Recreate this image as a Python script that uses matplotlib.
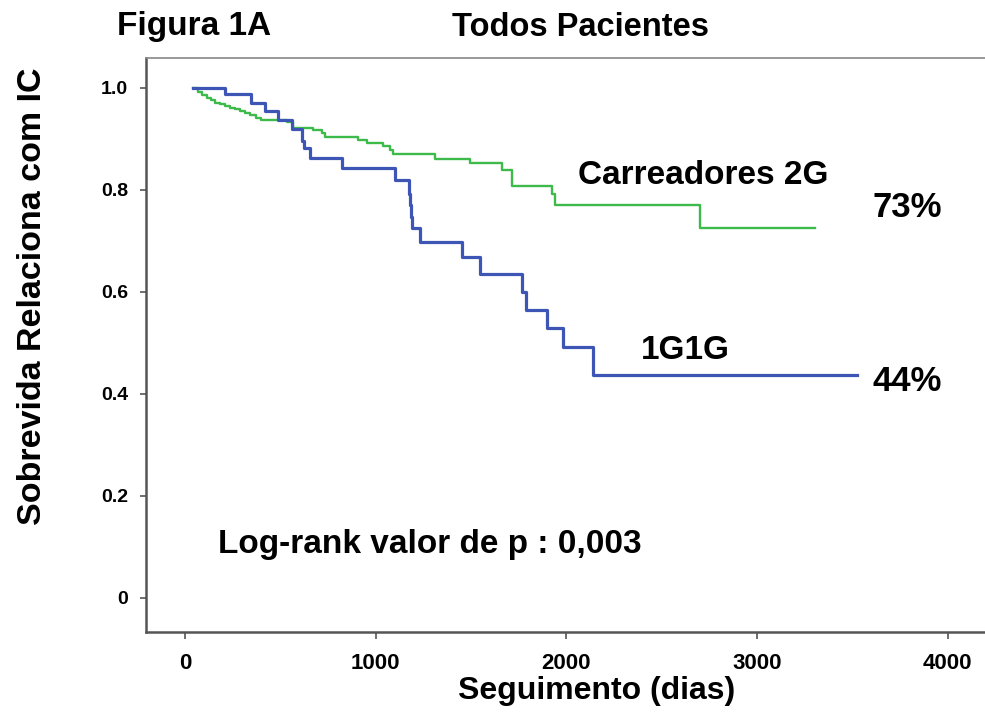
#!/usr/bin/python

"""Plot Kaplan-Meier survival curves for 1G1G and 2G carriers."""

import matplotlib.pyplot as plt

# follow-up days and survival after each event, 2G carriers (green)
carriers_days = [44, 68, 89, 115, 136, 157, 184, 210, 236, 262, 288, 315,
                 341, 372, 398, 535, 566, 671, 718, 734, 907, 954, 1038,
                 1075, 1091, 1311, 1494, 1662, 1713, 1716, 1924, 1940, 2700,
                 3303]
carriers_surv = [1.0, 0.993, 0.986, 0.981, 0.976, 0.971, 0.968, 0.965, 0.961,
                 0.958, 0.954, 0.951, 0.947, 0.942, 0.937, 0.933, 0.921,
                 0.917, 0.911, 0.903, 0.898, 0.893, 0.886, 0.878, 0.870,
                 0.860, 0.852, 0.840, 0.822, 0.807, 0.792, 0.771, 0.725,
                 0.725]

# follow-up days and survival after each event, 1G1G (blue)
homo_days = [43, 210, 344, 419, 489, 559, 615, 624, 655, 822, 1100, 1174,
             1178, 1184, 1189, 1232, 1451, 1547, 1765, 1788, 1897, 1984,
             2141, 3522]
homo_surv = [1.0, 0.988, 0.971, 0.955, 0.937, 0.920, 0.896, 0.882, 0.862,
             0.843, 0.819, 0.793, 0.770, 0.748, 0.725, 0.698, 0.669, 0.636,
             0.600, 0.565, 0.529, 0.492, 0.438, 0.438]

xticks = [0, 1000, 2000, 3000, 4000]
yticks = [0, 0.2, 0.4, 0.6, 0.8, 1.0]
yticklabels = ['0', '0.2', '0.4', '0.6', '0.8', '1.0']


def main():
    """Main program called during execution."""

    plt.rcParams['font.family'] = ['Liberation Sans', 'DejaVu Sans']
    plt.rcParams['font.weight'] = 'bold'

    # initialize figure
    fig = plt.figure(figsize=(9.85, 7.19), dpi=100)
    ax = fig.add_axes([146/985, 1-632/719, 1-146/985, (632-58)/719])

    # plot survival curves
    ax.plot(carriers_days, carriers_surv, drawstyle='steps-post',
            color='#3dbb4a', lw=1.7)
    ax.plot(homo_days, homo_surv, drawstyle='steps-post',
            color='#3d55b5', lw=2.3)

    # set axes properties
    ax.set_xlim(-205, 4195)
    ax.set_ylim(-0.0667, 1.0588)
    ax.set_xticks(xticks)
    ax.set_xticklabels([str(t) for t in xticks], fontsize=16, weight='bold')
    ax.set_yticks(yticks)
    ax.set_yticklabels(yticklabels, fontsize=14, weight='bold')
    ax.tick_params(axis='x', length=5, width=1.2, color='#555555', pad=10)
    ax.tick_params(axis='y', length=4, width=1.2, color='#555555', pad=9)
    ax.spines['right'].set_visible(False)
    for side in ['left', 'bottom']:
        ax.spines[side].set_color('#555555')
        ax.spines[side].set_linewidth(1.8)
    ax.spines['top'].set_color('#888888')
    ax.spines['top'].set_linewidth(1.2)

    # annotate curves
    ax.text(2716, 0.829, 'Carreadores 2G', fontsize=24, weight='bold',
            ha='center', va='center')
    ax.text(3786, 0.765, '73%', fontsize=25, weight='bold',
            ha='center', va='center')
    ax.text(2622, 0.486, '1G1G', fontsize=24, weight='bold',
            ha='center', va='center')
    ax.text(3786, 0.425, '44%', fontsize=25, weight='bold',
            ha='center', va='center')
    ax.text(1285, 0.104, 'Log-rank valor de p : 0,003', fontsize=24,
            weight='bold', ha='center', va='center')

    # titles and axis labels
    fig.text(117/985, 1-27/719, 'Figura 1A', fontsize=24, weight='bold',
             ha='left', va='center')
    fig.text(452/985, 1-27/719, 'Todos Pacientes', fontsize=23.5,
             weight='bold', ha='left', va='center')
    fig.text(597/985, 1-691/719, 'Seguimento (dias)', fontsize=23,
             weight='bold', ha='center', va='center')
    fig.text(33/985, 1-296/719, 'Sobrevida Relaciona com IC', fontsize=24.5,
             weight='bold', ha='center', va='center', rotation=90)

    # save figure
    fig.savefig('out.png', dpi=100)


if __name__ == '__main__':
    main()
